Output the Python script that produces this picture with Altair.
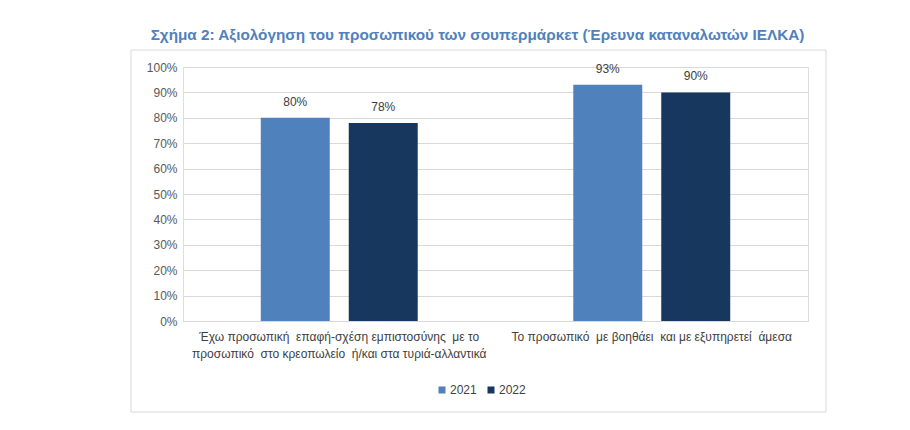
import altair as alt
import pandas as pd

NB = " \u00a0"  # keeps the double spaces of the original labels visible
categories = [
    f"Έχω προσωπική{NB}επαφή-σχέση εμπιστοσύνης{NB}με το\nπροσωπικό{NB}στο κρεοπωλείο{NB}ή/και στα τυριά-αλλαντικά",
    f"Το προσωπικό{NB}με βοηθάει{NB}και με εξυπηρετεί{NB}άμεσα",
]
years = ["2021", "2022"]
values_2021 = [0.80, 0.93]
values_2022 = [0.78, 0.90]
colors = ["#4F81BD", "#17375E"]
y_ticks = [0.0, 0.1, 0.2, 0.3, 0.4, 0.5, 0.6, 0.7, 0.8, 0.9, 1.0]
title_text = "Σχήμα 2: Αξιολόγηση του προσωπικού των σουπερμάρκετ (Έρευνα καταναλωτών ΙΕΛΚΑ)"

rows = []
for c, v1, v2 in zip(categories, values_2021, values_2022):
    rows.append({"cat": c, "year": years[0], "value": v1})
    rows.append({"cat": c, "year": years[1], "value": v2})
df = pd.DataFrame(rows)

FONT = "Liberation Sans"

x_enc = alt.X(
    "cat:N",
    sort=categories,
    title=None,
    scale=alt.Scale(paddingInner=0, paddingOuter=0),
    axis=alt.Axis(
        labelAngle=0,
        labelExpr="split(datum.label, '\\n')",
        labelFont=FONT,
        labelFontSize=12,
        labelColor="#404040",
        labelLineHeight=17,
        labelPadding=10,
        ticks=False,
        domain=False,
        labelLimit=400,
    ),
)
xoff = alt.XOffset(
    "year:N",
    sort=years,
    scale=alt.Scale(paddingInner=0.216, paddingOuter=0.884),
)
y_enc = alt.Y(
    "value:Q",
    title=None,
    scale=alt.Scale(domain=[0, 1], nice=False),
    axis=alt.Axis(
        format=".0%",
        values=y_ticks,
        labelFont=FONT,
        labelFontSize=12,
        labelColor="#595959",
        labelPadding=6,
        labelOverlap=False,
        ticks=False,
        domain=False,
        gridColor="#D9D9D9",
        gridWidth=1,
    ),
)

bars = alt.Chart(df).mark_bar().encode(
    x=x_enc,
    xOffset=xoff,
    y=y_enc,
    color=alt.Color(
        "year:N",
        sort=years,
        scale=alt.Scale(domain=years, range=colors),
        legend=alt.Legend(
            title=None,
            orient="none",
            direction="horizontal",
            legendX=253,
            legendY=317,
            symbolType="square",
            symbolSize=49,
            symbolStrokeWidth=0,
            labelFont=FONT,
            labelFontSize=12,
            labelColor="#404040",
            columnPadding=8,
            labelOffset=2,
        ),
    ),
)

labels = alt.Chart(df).mark_text(
    baseline="bottom", dy=-9, font=FONT, fontSize=12, color="#404040"
).encode(
    x=x_enc,
    xOffset=xoff,
    y=y_enc,
    text=alt.Text("value:Q", format=".0%"),
)

frame = alt.Chart(alt.Data(values=[{"a": 1}])).mark_rect(
    fill=None, stroke="#D9D9D9", strokeWidth=1
).encode(
    x=alt.value(-52), x2=alt.value(643), y=alt.value(-17), y2=alt.value(345)
)

chart = alt.layer(frame, bars, labels).properties(
    width=625,
    height=254,
    title=alt.TitleParams(
        title_text,
        font=FONT,
        fontSize=15.3,
        fontWeight="bold",
        color="#4F81BD",
        anchor="middle",
        dx=-18,
        offset=-6,
        baseline="alphabetic",
    ),
    autosize=alt.AutoSizeParams(type="none"),
    padding={"left": 183, "top": 67, "right": 90, "bottom": 100},
).configure_view(stroke=None).configure(background="white")

chart.save("out.html", embed_options={"renderer": "svg", "actions": False})
